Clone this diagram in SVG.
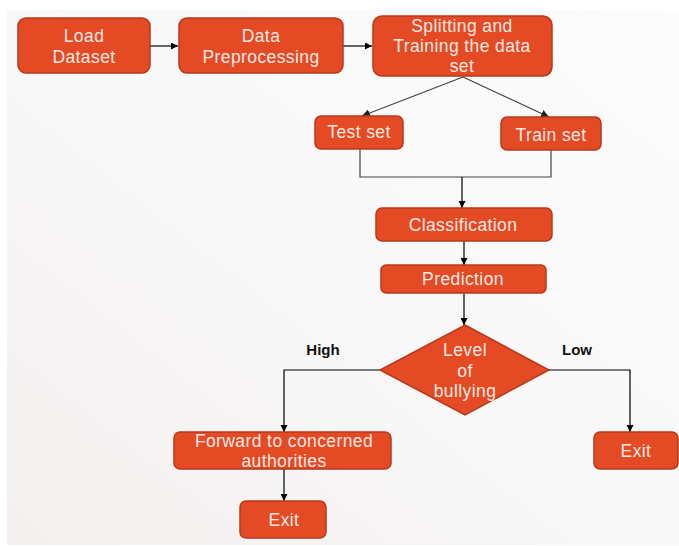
<svg xmlns="http://www.w3.org/2000/svg" width="679" height="546" viewBox="0 0 679 546">
<defs>
<linearGradient id="bg" x1="1" y1="0" x2="0" y2="1">
<stop offset="0" stop-color="#fcfcfc"/>
<stop offset="0.5" stop-color="#f9f8f8"/>
<stop offset="1" stop-color="#f3f0ef"/>
</linearGradient>
<marker id="arr" viewBox="0 0 10 10" refX="10" refY="5" markerWidth="7" markerHeight="7" orient="auto" markerUnits="userSpaceOnUse">
<path d="M0,0 L10,5 L0,10 z" fill="#000"/>
</marker>
<marker id="arrg" viewBox="0 0 10 10" refX="10" refY="5" markerWidth="8" markerHeight="8" orient="auto" markerUnits="userSpaceOnUse">
<path d="M0,0 L10,5 L0,10 z" fill="#222"/>
</marker>
</defs>
<style>
.box{fill:#e44a24;stroke:#b7391c;stroke-width:1.5}
.t{font-family:"Liberation Sans",Arial,sans-serif;font-size:17.5px;letter-spacing:0.4px;fill:#fde9e2;text-anchor:middle}
.lbl{font-family:"Liberation Sans",Arial,sans-serif;font-size:15px;font-weight:bold;fill:#111;text-anchor:middle}
.c{fill:none;stroke:#000;stroke-width:1.2}
.cg{fill:none;stroke:#444;stroke-width:1.2}
</style>
<rect x="0" y="0" width="679" height="546" fill="#ffffff"/>
<rect x="7" y="10" width="672" height="535" fill="url(#bg)"/>

<g id="connectors">
<line class="c" x1="150" y1="46" x2="178" y2="46" marker-end="url(#arr)"/>
<line class="c" x1="343" y1="46" x2="372" y2="46" marker-end="url(#arr)"/>
<line class="cg" x1="463" y1="77" x2="362" y2="116" marker-end="url(#arrg)"/>
<line class="cg" x1="463" y1="77" x2="549" y2="117" marker-end="url(#arrg)"/>
<polyline class="cg" points="360,149 360,177 551,177 551,150"/>
<line class="c" x1="462" y1="177" x2="462" y2="208" marker-end="url(#arr)"/>
<line class="c" x1="464" y1="241" x2="464" y2="265" marker-end="url(#arr)"/>
<line class="c" x1="464" y1="293" x2="464" y2="325" marker-end="url(#arr)"/>
<polyline class="c" points="380,370 284,370 284,432" marker-end="url(#arr)"/>
<polyline class="c" points="549,370 630,370 630,432" marker-end="url(#arr)"/>
<line class="c" x1="284" y1="469" x2="284" y2="501" marker-end="url(#arr)"/>
</g>

<g id="load-dataset">
<rect class="box" x="18" y="18" width="132" height="55" rx="8"/>
<text class="t" x="84" y="42">Load</text>
<text class="t" x="84" y="63">Dataset</text>
</g>
<g id="data-preprocessing">
<rect class="box" x="179" y="18" width="164" height="55" rx="8"/>
<text class="t" x="261" y="42">Data</text>
<text class="t" x="261" y="63">Preprocessing</text>
</g>
<g id="splitting">
<rect class="box" x="373" y="16" width="179" height="60" rx="9"/>
<text class="t" x="462" y="32">Splitting and</text>
<text class="t" x="462" y="52">Training the data</text>
<text class="t" x="462" y="72">set</text>
</g>
<g id="test-set">
<rect class="box" x="315" y="116" width="88" height="33" rx="6"/>
<text class="t" x="359" y="138">Test set</text>
</g>
<g id="train-set">
<rect class="box" x="501" y="117" width="100" height="33" rx="6"/>
<text class="t" x="551" y="141">Train set</text>
</g>
<g id="classification">
<rect class="box" x="376" y="208" width="176" height="33" rx="6"/>
<text class="t" x="463" y="231">Classification</text>
</g>
<g id="prediction">
<rect class="box" x="381" y="265" width="165" height="28" rx="5"/>
<text class="t" x="463" y="285">Prediction</text>
</g>
<g id="level-of-bullying">
<polygon class="box" points="465,325 549,370 465,415 380,370"/>
<text class="t" x="465" y="356">Level</text>
<text class="t" x="465" y="377">of</text>
<text class="t" x="465" y="397">bullying</text>
</g>
<g id="labels">
<text class="lbl" x="323" y="355">High</text>
<text class="lbl" x="577" y="355">Low</text>
</g>
<g id="forward">
<rect class="box" x="174" y="432" width="217" height="37" rx="6"/>
<text class="t" x="284" y="447">Forward to concerned</text>
<text class="t" x="284" y="467">authorities</text>
</g>
<g id="exit-left">
<rect class="box" x="240" y="501" width="86" height="37" rx="6"/>
<text class="t" x="284" y="526">Exit</text>
</g>
<g id="exit-right">
<rect class="box" x="594" y="432" width="84" height="37" rx="6"/>
<text class="t" x="636" y="457">Exit</text>
</g>
</svg>
